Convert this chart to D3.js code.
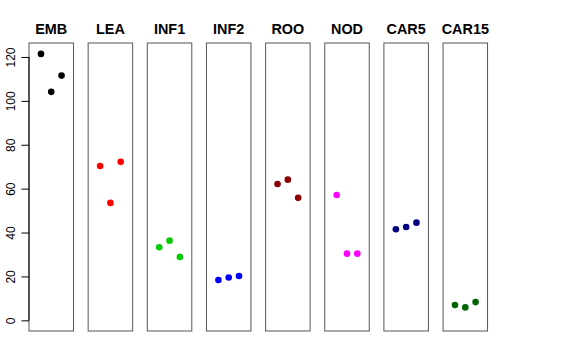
<!DOCTYPE html>
<html><head><meta charset="utf-8">
<script src="https://cdn.jsdelivr.net/npm/d3@7"></script>
<style>body{margin:0;background:#fff}svg{display:block;font-family:"Liberation Sans",Arial,sans-serif}</style>
</head><body>
<svg id="c" width="576" height="360"></svg>
<script>
const categories = ["EMB","LEA","INF1","INF2","ROO","NOD","CAR5","CAR15"];
const colors = ["#000000","#FF0000","#00CD00","#0000FF","#8B0000","#FF00FF","#000080","#006400"];
const valuesEMB = [121.4,104.1,111.5];
const valuesLEA = [70.3,53.5,72.2];
const valuesINF1 = [33.3,36.3,28.9];
const valuesINF2 = [18.4,19.5,20.2];
const valuesROO = [62.1,64.1,55.8];
const valuesNOD = [57.1,30.4,30.4];
const valuesCAR5 = [41.5,42.5,44.5];
const valuesCAR15 = [7.0,5.9,8.3];
const series = [valuesEMB,valuesLEA,valuesINF1,valuesINF2,valuesROO,valuesNOD,valuesCAR5,valuesCAR15];
const yTicks = [0,20,40,60,80,100,120];

const svg = d3.select("#c");
const pTop = 43, pBottom = 331, panelW = 44.5, left0 = 29, step = 59.15;
const yMax = 121.5, ext = yMax*0.04;
const y = d3.scaleLinear().domain([-ext, yMax+ext]).range([pBottom, pTop]);

categories.forEach((cat,i)=>{
  const x0 = left0 + i*step;
  const x = d3.scaleLinear().domain([-0.16,4.16]).range([x0, x0+panelW]);
  const g = svg.append("g");
  g.append("rect").attr("x",x0).attr("y",pTop).attr("width",panelW).attr("height",pBottom-pTop)
    .attr("fill","none").attr("stroke","#555").attr("stroke-width",1);
  g.append("text").attr("x",x0+panelW/2).attr("y",34).attr("text-anchor","middle")
    .attr("font-weight","bold").attr("font-size",14.4).text(cat);
  g.selectAll("circle").data(series[i]).join("circle")
    .attr("cx",(d,j)=>x(j+1)).attr("cy",d=>y(d)).attr("r",3.3).attr("fill",colors[i]);
});

const ax = svg.append("g").attr("transform",`translate(${left0},0)`)
  .call(d3.axisLeft(y).tickValues(yTicks).tickSize(7.5).tickPadding(4).tickFormat(d3.format("d")));
ax.select(".domain").attr("d",`M0,${y(0)}V${y(120)}`).attr("stroke","#000");
ax.selectAll(".tick line").attr("stroke","#000");
ax.selectAll(".tick text").attr("font-size",12).attr("font-family","Liberation Sans, Arial, sans-serif")
  .attr("fill","#000")
  .attr("text-anchor","middle").attr("dy",0).attr("x",0).attr("y",0)
  .attr("transform","translate(-14,0) rotate(-90)");
</script>
</body></html>
